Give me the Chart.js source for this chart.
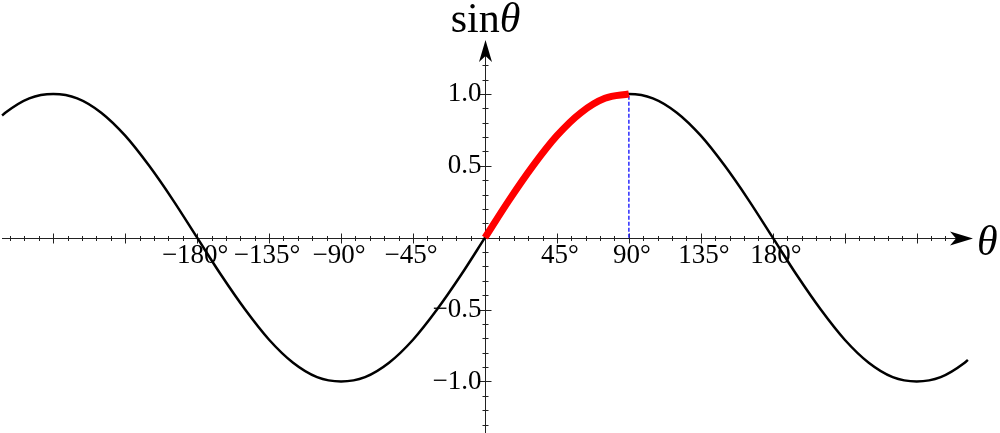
<!DOCTYPE html>
<html>
<head>
<meta charset="utf-8">
<script src="https://cdn.jsdelivr.net/npm/chart.js@4"></script>
<style>
  html, body { margin: 0; padding: 0; background: #fff; }
  #wrap { width: 1000px; height: 433px; position: relative; }
</style>
</head>
<body>
<div id="wrap"><canvas id="sin_canvas"></canvas></div>
<script>
// angle in degrees, and sin value
const theta = [-302, -300, -285, -270, -255, -240, -225, -210, -195, -180, -165, -150, -135, -120, -105,
  -90, -75, -60, -45, -30, -15, 0, 15, 30, 45, 60, 75, 90, 105, 120, 135, 150, 165, 180,
  195, 210, 225, 240, 255, 270, 285, 300, 302]
const sin_vals = [0.85, 0.87, 0.97, 1.0, 0.97, 0.87, 0.71, 0.5, 0.26, 0, -0.26, -0.5, -0.71, -0.87, -0.97,
  -1.0, -0.97, -0.87, -0.71, -0.5, -0.26, 0, 0.26, 0.5, 0.71, 0.87, 0.97, 1.0, 0.97, 0.87, 0.71, 0.5, 0.26, 0,
  -0.26, -0.5, -0.71, -0.87, -0.97, -1.0, -0.97, -0.87, -0.85]

// highlighted part 0..90
const red_theta = [0, 15, 30, 45, 60, 75, 90]
const red_vals = [0, 0.26, 0.5, 0.71, 0.87, 0.97, 1.0]

// dashed drop line at 90
const drop_theta = [90, 90]
const drop_vals = [0, 1.0]

const x_label_vals = [-180, -135, -90, -45, 45, 90, 135, 180]
const x_label_text = ["−180°", "−135°", "−90°", "−45°", "45°", "90°", "135°", "180°"]
const x_major = [-270, -225, -180, -135, -90, -45, 45, 90, 135, 180, 225, 270]
const y_label_vals = [1.0, 0.5, -0.5, -1.0]
const y_label_text = ["1.0", "0.5", "−0.5", "−1.0"]

function to_points(xs, ys) {
  return xs.map((x, i) => ({ x: x, y: ys[i] }))
}

const serif = "'Liberation Serif', 'Times New Roman', serif"

const axes_plugin = {
  id: "axes_plugin",
  beforeDatasetsDraw(chart) {
    const ctx = chart.ctx
    const xs = chart.scales.x
    const ys = chart.scales.y
    const x0 = Math.round(xs.getPixelForValue(0)) + 0.5
    const y0 = Math.round(ys.getPixelForValue(0)) + 0.5
    ctx.save()
    ctx.strokeStyle = "#222"
    ctx.fillStyle = "#000"
    ctx.lineWidth = 1

    // x axis
    ctx.beginPath()
    ctx.moveTo(2, y0)
    ctx.lineTo(958, y0)
    ctx.stroke()
    // x ticks
    ctx.beginPath()
    for (let d = -297; d <= 297; d += 9) {
      if (d === 0) continue
      const px = Math.round(xs.getPixelForValue(d)) + 0.5
      const len = x_major.includes(d) ? 5 : 2.5
      ctx.moveTo(px, y0 - len)
      ctx.lineTo(px, y0 + len)
    }
    ctx.stroke()

    // y axis
    ctx.beginPath()
    ctx.moveTo(x0, 433)
    ctx.lineTo(x0, 56)
    ctx.stroke()
    ctx.beginPath()
    for (let k = -13; k <= 12; k++) {
      if (k === 0) continue
      const py = Math.round(ys.getPixelForValue(k / 10)) + 0.5
      const len = (k % 5 === 0) ? 6 : 3
      ctx.moveTo(x0 - len, py)
      ctx.lineTo(x0 + len, py)
    }
    ctx.stroke()

    // arrow heads
    ctx.beginPath()
    ctx.moveTo(973, y0)
    ctx.lineTo(950, y0 - 7)
    ctx.lineTo(956, y0)
    ctx.lineTo(950, y0 + 7)
    ctx.closePath()
    ctx.fill()
    ctx.beginPath()
    ctx.moveTo(x0, 40)
    ctx.lineTo(x0 - 6.5, 62)
    ctx.lineTo(x0, 56)
    ctx.lineTo(x0 + 6.5, 62)
    ctx.closePath()
    ctx.fill()

    // tick labels
    ctx.font = "27px " + serif
    ctx.textAlign = "center"
    ctx.textBaseline = "alphabetic"
    x_label_vals.forEach((v, i) => {
      const px = xs.getPixelForValue(v) + (v > 0 ? 3 : -2)
      ctx.fillText(x_label_text[i], px, y0 + 24)
    })
    ctx.textAlign = "right"
    ctx.textBaseline = "middle"
    y_label_vals.forEach((v, i) => {
      ctx.fillText(y_label_text[i], x0 - 4, ys.getPixelForValue(v))
    })

    // axis titles
    ctx.textBaseline = "alphabetic"
    ctx.textAlign = "left"
    ctx.font = "42px " + serif
    const sw = ctx.measureText("sin").width
    ctx.font = "italic 42px " + serif
    const tw = ctx.measureText("θ").width
    const sx = x0 - (sw + tw) / 2
    ctx.font = "42px " + serif
    ctx.fillText("sin", sx, 32)
    ctx.font = "italic 42px " + serif
    ctx.fillText("θ", sx + sw, 32)
    ctx.fillText("θ", 977, y0 + 16)
    ctx.restore()
  }
}

window.addEventListener("DOMContentLoaded", () => {
  const config = {
    type: "line",
    data: {
      datasets: [
        {
          label: "sin",
          data: to_points(theta, sin_vals),
          borderColor: "#000",
          borderWidth: 2.5,
          pointRadius: 0,
          cubicInterpolationMode: "monotone",
          fill: false,
          order: 3,
        },
        {
          label: "drop",
          data: to_points(drop_theta, drop_vals),
          borderColor: "#2a2aff",
          borderWidth: 1.5,
          borderDash: [4, 2],
          pointRadius: 0,
          fill: false,
          order: 2,
        },
        {
          label: "0-90",
          data: to_points(red_theta, red_vals),
          borderColor: "#ff0000",
          borderWidth: 7,
          pointRadius: 0,
          cubicInterpolationMode: "monotone",
          fill: false,
          order: 1,
        },
      ],
    },
    options: {
      responsive: true,
      maintainAspectRatio: false,
      animation: false,
      layout: { padding: 0 },
      plugins: { legend: { display: false }, tooltip: { enabled: false } },
      scales: {
        x: { type: "linear", min: -303.3, max: 322.1, display: false },
        y: { type: "linear", min: -1.359, max: 1.654, display: false },
      },
    },
    plugins: [axes_plugin],
  }
  new Chart(document.getElementById("sin_canvas").getContext("2d"), config)
})
</script>
</body>
</html>
